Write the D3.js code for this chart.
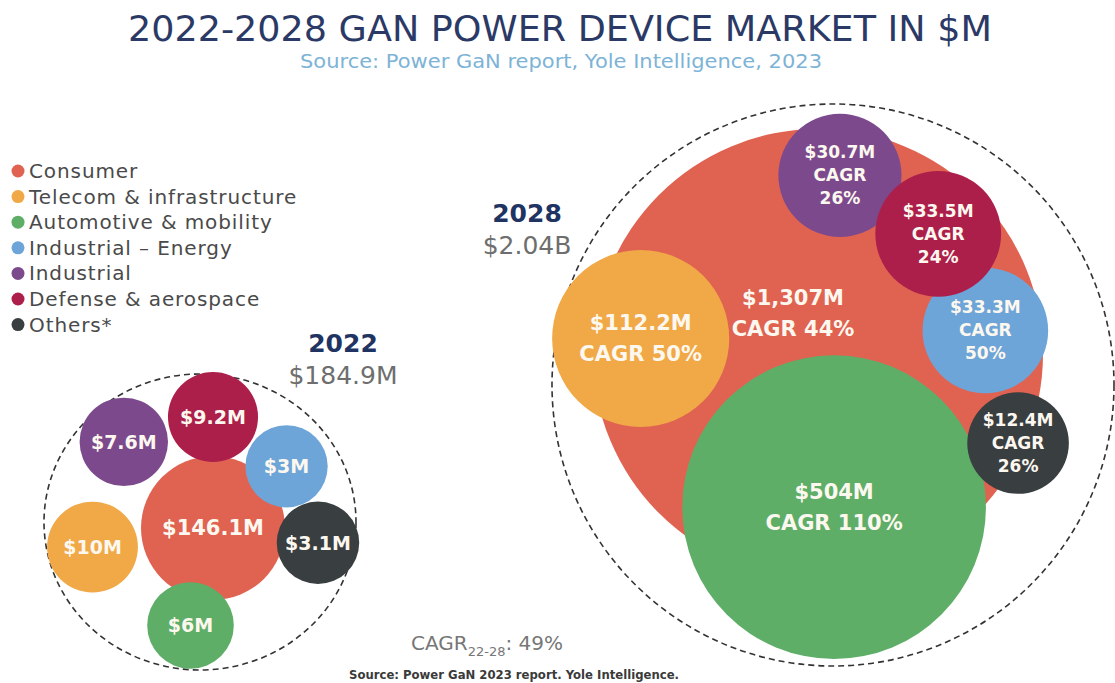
<!DOCTYPE html>
<html>
<head>
<meta charset="utf-8">
<script src="https://cdn.jsdelivr.net/npm/d3@7"></script>
<style>
  body { margin: 0; background: #fff; }
  text { font-family: "DejaVu Sans", "Open Sans", sans-serif; }
</style>
</head>
<body>
<script>
// GaN power device market bubbles, 2022 vs 2028

var categories = ["Consumer", "Telecom & infrastructure", "Automotive & mobility",
  "Industrial \u2013 Energy", "Industrial", "Defense & aerospace", "Others*"];
var colors = ["#e06352", "#f0a946", "#5fae68", "#6ea5d8", "#7c4a8c", "#ad1f4b", "#393e41"];
var values2022 = [146.1, 10, 6, 3, 7.6, 9.2, 3.1];
var values2028 = [1307, 112.2, 504, 33.3, 30.7, 33.5, 12.4];
var cagr = [44, 50, 110, 50, 26, 24, 26];
var totals = { "2022": "$184.9M", "2028": "$2.04B" };
var cagrTotal = "49%";

var svgWidth = 1115;
var svgHeight = 683;

var svg = d3.select("body")
  .append("svg")
  .attr("width", svgWidth)
  .attr("height", svgHeight);

// title
svg.append("text")
  .attr("x", 560).attr("y", 41)
  .attr("text-anchor", "middle")
  .attr("textLength", 864).attr("lengthAdjust", "spacingAndGlyphs")
  .style("font-size", "35px")
  .style("fill", "#2b3966")
  .text("2022-2028 GAN POWER DEVICE MARKET IN $M");

svg.append("text")
  .attr("x", 561).attr("y", 68)
  .attr("text-anchor", "middle")
  .attr("textLength", 522).attr("lengthAdjust", "spacingAndGlyphs")
  .style("font-size", "19px")
  .style("fill", "#7db3d6")
  .text("Source: Power GaN report, Yole Intelligence, 2023");

// legend
var legend = svg.append("g").attr("transform", "translate(18,171)");
var legendRow = legend.selectAll("g")
  .data(categories)
  .enter()
  .append("g")
  .attr("transform", (d, i) => `translate(0, ${i * 25.6})`);
legendRow.append("circle")
  .attr("r", 6.5)
  .attr("fill", (d, i) => colors[i]);
legendRow.append("text")
  .attr("x", 11).attr("y", 7)
  .style("font-size", "20px")
  .style("letter-spacing", "0.9px")
  .style("fill", "#4a4a4a")
  .text(d => d);

// layout: main bubble centre, ring, and polar placement (angle deg, distance px) of each bubble
var layout = {
  "2022": { center: [213, 528], ring: [200, 522, 156, 148], range: [36, 72],
    place: [[0, 0], [171, 122], [103, 100], [-40, 96], [-136, 124], [-90, 111], [8, 106]],
    mainShift: [0, 0] },
  "2028": { center: [818, 354], ring: [833, 385, 281, 281], range: [32, 225],
    place: [[0, 0], [185, 178], [84, 154], [-8, 169], [-83, 180], [-45, 170], [24, 219]],
    mainShift: [-25, -41] }
};

var fmt = d3.format(",");

function drawGroup(year, values, withCagr) {
  var L = layout[year];
  var rScale = d3.scaleSqrt()
    .domain([0, d3.max(values)])
    .range(L.range);

  var g = svg.append("g");

  g.append("ellipse")
    .attr("cx", L.ring[0]).attr("cy", L.ring[1])
    .attr("rx", L.ring[2]).attr("ry", L.ring[3])
    .attr("fill", "none")
    .attr("stroke", "#333")
    .attr("stroke-width", 1.6)
    .attr("stroke-dasharray", "6,4");

  var nodes = values.map(function (v, i) {
    var a = L.place[i][0] * Math.PI / 180;
    return {
      i: i, v: v, r: rScale(v),
      x: L.center[0] + L.place[i][1] * Math.cos(a),
      y: L.center[1] + L.place[i][1] * Math.sin(a)
    };
  });

  g.selectAll("circle.bubble")
    .data(nodes)
    .enter()
    .append("circle")
    .attr("class", "bubble")
    .attr("cx", d => d.x)
    .attr("cy", d => d.y)
    .attr("r", d => d.r)
    .attr("fill", d => colors[d.i]);

  var labels = g.selectAll("g.lab")
    .data(nodes)
    .enter()
    .append("g")
    .attr("class", "lab")
    .attr("transform", function (d) {
      var s = d.i === 0 ? L.mainShift : [0, 0];
      return `translate(${d.x + s[0]}, ${d.y + s[1]})`;
    });

  labels.each(function (d) {
    var lab = d3.select(this);
    var money = "$" + fmt(d.v) + "M";
    var lines, size, ys;
    if (!withCagr) {
      lines = [money]; size = d.i === 0 ? 21 : 19; ys = [7];
    } else if (d.r > 80) {
      lines = [money, "CAGR " + cagr[d.i] + "%"]; size = 21; ys = [-8, 23];
    } else {
      lines = [money, "CAGR", cagr[d.i] + "%"]; size = 17; ys = [-17, 6, 29];
    }
    lines.forEach(function (t, k) {
      lab.append("text")
        .attr("y", ys[k])
        .attr("text-anchor", "middle")
        .style("font-size", size + "px")
        .style("font-weight", "600")
        .style("fill", "#fdf8ef")
        .text(t);
    });
  });
}

drawGroup("2022", values2022, false);
drawGroup("2028", values2028, true);

// year headers
var headers = [
  { year: "2022", x: 343, y: 352 },
  { year: "2028", x: 527, y: 222 }
];
headers.forEach(function (h) {
  svg.append("text")
    .attr("x", h.x).attr("y", h.y)
    .attr("text-anchor", "middle")
    .style("font-size", "25px")
    .style("font-weight", "bold")
    .style("fill", "#1f3463")
    .text(h.year);
  svg.append("text")
    .attr("x", h.x).attr("y", h.y + 32)
    .attr("text-anchor", "middle")
    .style("font-size", "25px")
    .style("fill", "#6e6e6e")
    .text(totals[h.year]);
});

// overall CAGR
var cagrText = svg.append("text")
  .attr("x", 411).attr("y", 650)
  .style("font-size", "20px")
  .style("fill", "#777");
cagrText.append("tspan").text("CAGR");
cagrText.append("tspan").attr("dy", 6).style("font-size", "13px").text("22-28");
cagrText.append("tspan").attr("dy", -6).text(": " + cagrTotal);

svg.append("text")
  .attr("x", 514).attr("y", 679)
  .attr("text-anchor", "middle")
  .attr("textLength", 330).attr("lengthAdjust", "spacingAndGlyphs")
  .style("font-size", "13px")
  .style("font-weight", "bold")
  .style("fill", "#3a3a3a")
  .text("Source: Power GaN 2023 report. Yole Intelligence.");
</script>
</body>
</html>
